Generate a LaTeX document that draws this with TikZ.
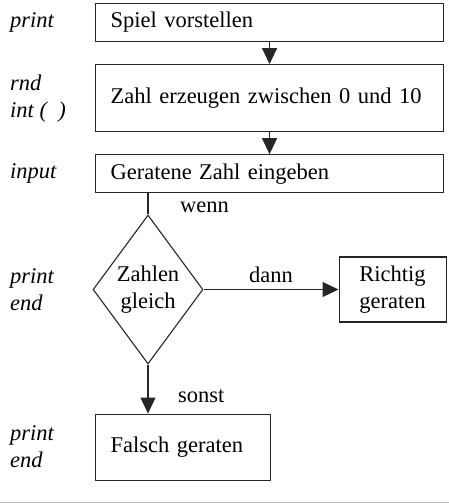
\documentclass[tikz,border=0pt]{standalone}
\usepackage{fontspec}
\setmainfont{Liberation Serif}
\usetikzlibrary{arrows.meta,positioning,shapes.geometric,calc}

\begin{document}
\begin{tikzpicture}[x=1pt,y=1pt,>={Triangle[length=16pt,width=15pt]},
  font=\fontsize{22.5}{27}\selectfont,
  box/.style={draw=black!85,line width=1.1pt,inner xsep=15pt,inner ysep=0pt,align=left,text width=318pt},
  dia/.style={draw=black!85,line width=1.1pt,shape=diamond,inner sep=0pt,minimum width=106pt,minimum height=149pt,align=center},
  lab/.style={font=\fontsize{22.5}{27}\selectfont\itshape,align=left,anchor=west,inner sep=0pt},
  cond/.style={inner sep=0pt},
  flow/.style={draw=black!85,line width=1.1pt}]
  \useasboundingbox (0,0) rectangle (449,-504);
  % main chain
  \node[box,minimum height=38pt,anchor=north west] (spiel) at (95,-3) {Spiel vorstellen};
  \node[box,minimum height=67pt,below=22pt of spiel] (zahl) {Zahl erzeugen zwischen 0 und 10};
  \node[box,minimum height=38pt,below=22pt of zahl] (input) {Geratene Zahl eingeben};
  \draw[flow,->] (spiel) -- (zahl);
  \draw[flow,->] (zahl) -- (input);
  % decision
  \node[dia] (dia) at (148,-289.5) {Zahlen\\gleich};
  \draw[flow] (input.south -| dia.north) -- (dia.north);
  \node[cond,anchor=base west] (wenn) at ($(dia.north)+(32,2)$) {wenn};
  \node[draw=black!85,line width=1.1pt,minimum width=107pt,minimum height=65pt,align=center,inner sep=0pt,right=135pt of dia] (richtig) {Richtig\\geraten};
  \draw[flow,->] (dia.east) -- (dia.east -| richtig.west) node[midway,cond,above=6pt] (dann) {dann};
  \node[box,text width=145pt,minimum height=66pt,anchor=north west] (falsch) at ($(dia.south -| input.west)+(0,-49)$) {Falsch geraten};
  \draw[flow,->] (dia.south) -- (dia.south |- falsch.north);
  \node[cond,anchor=base west] (sonst) at ($(dia.south)+(30,-38)$) {sonst};
  % basic keywords
  \coordinate (lx) at (10,0);
  \node[lab] (l1) at (spiel.west -| lx) {print};
  \node[lab] (l2) at (zahl.west -| lx) {rnd\\int (\,\,\,)};
  \node[lab] (l3) at (input.west -| lx) {input};
  \node[lab] (l4) at (dia.west -| lx) {print\\end};
  \node[lab] (l5) at (falsch.west -| lx) {print\\end};
  % rule at the foot
  \draw[black!25,line width=1.5pt] (0,-502.5) -- (449,-502.5);
\end{tikzpicture}
\end{document}
